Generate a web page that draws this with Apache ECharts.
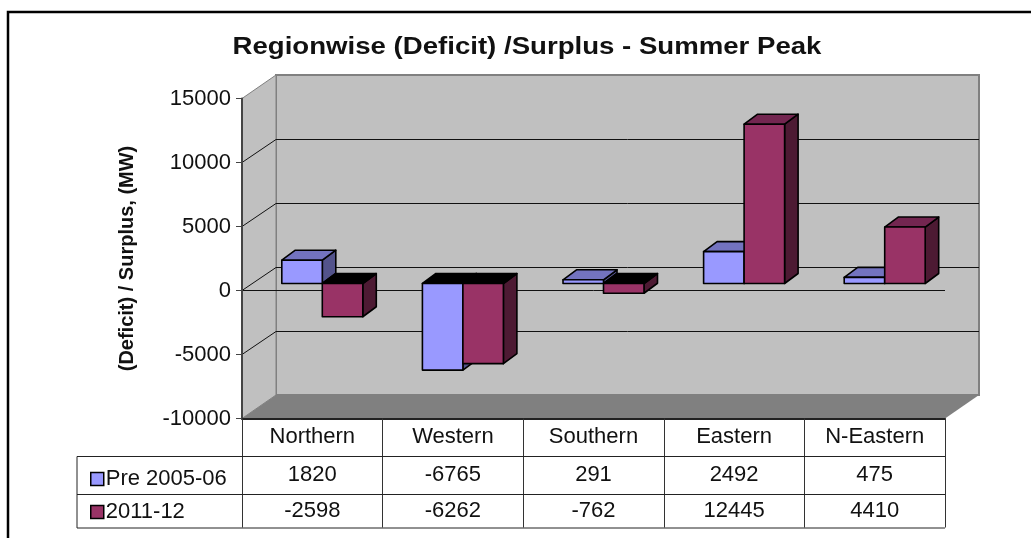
<!DOCTYPE html>
<html>
<head>
<meta charset="utf-8">
<style>
  html, body { margin: 0; padding: 0; background: #fff; }
  #chart { width: 1031px; height: 538px; }
</style>
<script src="https://cdn.jsdelivr.net/npm/echarts@6/dist/echarts.min.js"></script>
</head>
<body>
<div id="chart"></div>
<script>
const regions = ['Northern', 'Western', 'Southern', 'Eastern', 'N-Eastern']
const pre200506 = [1820, -6765, 291, 2492, 475]
const y201112 = [-2598, -6262, -762, 12445, 4410]
const yTicks = [-10000, -5000, 0, 5000, 10000, 15000]

const font = 'Liberation Sans'
const wall = { dx: 34, dy: 23.5 }
const barFront = { dx: 10, dy: 7 }
const barDepth = { dx: 13.5, dy: 10 }
const rowY = [475, 511]

const dom = document.getElementById('chart')
const chart = echarts.init(dom, null, { renderer: 'canvas' })

// back wall, side wall, floor and the gridlines that run over them
function renderWalls (params, api) {
  const low = api.coord([0, yTicks[0]])[1]
  const high = api.coord([0, yTicks[yTicks.length - 1]])[1]
  const size = api.size([1, 0])[0]
  const x0 = api.coord([0, 0])[0] - size / 2
  const x1 = x0 + size * regions.length
  const children = [
    { type: 'rect', shape: { x: x0 + wall.dx, y: high - wall.dy, width: x1 - x0, height: low - high }, style: { fill: '#c0c0c0', stroke: '#808080', lineWidth: 2 } },
    { type: 'polygon', shape: { points: [[x0, high], [x0 + wall.dx, high - wall.dy], [x0 + wall.dx, low - wall.dy], [x0, low]] }, style: { fill: '#c0c0c0', stroke: '#808080', lineWidth: 1 } },
    { type: 'polygon', shape: { points: [[x0, low], [x0 + wall.dx, low - wall.dy], [x1 + wall.dx, low - wall.dy], [x1, low]] }, style: { fill: '#808080' } }
  ]
  yTicks.slice(1, -1).forEach((t) => {
    const y = api.coord([0, t])[1]
    // keep the long run on a pixel centre so it stays crisp
    const back = Math.round(y - wall.dy) + 0.5
    children.push({ type: 'polyline', shape: { points: [[x0, y], [x0 + wall.dx, back], [x1 + wall.dx, back]] }, style: { fill: null, stroke: '#111', lineWidth: 1 } })
  })
  const zero = api.coord([0, 0])[1]
  children.push({ type: 'line', shape: { x1: x0, y1: zero, x2: x1, y2: zero }, style: { stroke: '#111', lineWidth: 1 } })
  return { type: 'group', children }
}

function barRenderer (front, top, side, offset, rowIndex) {
  return function (params, api) {
    const cat = api.value(0)
    const val = api.value(1)
    const center = api.coord([cat, 0])[0]
    const band = api.size([1, 0])[0]
    const w = band * 0.288
    const xa = center + barFront.dx + offset * w
    const xb = xa + w
    const y0 = api.coord([cat, 0])[1] - barFront.dy
    const yv = api.coord([cat, val])[1] - barFront.dy
    const yt = Math.min(y0, yv)
    const yb = Math.max(y0, yv)
    const d = barDepth
    const line = { stroke: '#000', lineWidth: 1.6, lineJoin: 'round' }
    return {
      type: 'group',
      children: [
        { type: 'polygon', shape: { points: [[xb, yt], [xb + d.dx, yt - d.dy], [xb + d.dx, yb - d.dy], [xb, yb]] }, style: { fill: side, ...line } },
        { type: 'polygon', shape: { points: [[xa, yt], [xa + d.dx, yt - d.dy], [xb + d.dx, yt - d.dy], [xb, yt]] }, style: { fill: val < 0 ? '#000' : top, ...line } },
        { type: 'rect', shape: { x: xa, y: yt, width: w, height: yb - yt }, style: { fill: front, ...line } },
        { type: 'text', style: { text: String(val), x: center, y: rowY[rowIndex], align: 'center', verticalAlign: 'middle', font: '22px "' + font + '"', fill: '#111' } }
      ]
    }
  }
}

const tableLines = [
  [77, 456.5, 945, 456.5],
  [77, 494.5, 945, 494.5],
  [77, 528, 945, 528],
  [77, 456.5, 77, 528]
]

const option = {
  animation: false,
  backgroundColor: '#fff',
  textStyle: { fontFamily: font },
  grid: { left: 242, top: 98.5, width: 703, height: 320 },
  legend: {
    orient: 'vertical',
    left: 85,
    top: 463,
    itemWidth: 13,
    itemHeight: 13,
    itemGap: 11,
    icon: 'rect',
    data: ['Pre 2005-06', '2011-12'],
    itemStyle: { borderColor: '#000', borderWidth: 1.5 },
    textStyle: { fontFamily: font, fontSize: 22, color: '#111', padding: [0, 0, 0, -3] }
  },
  xAxis: {
    type: 'category',
    data: regions,
    z: 4,
    axisLine: { onZero: false, lineStyle: { color: '#222', width: 2 } },
    axisTick: { show: true, length: 109, lineStyle: { color: '#333', width: 1 } },
    axisLabel: { fontFamily: font, fontSize: 22, color: '#111', margin: 7 }
  },
  yAxis: {
    type: 'value',
    min: yTicks[0],
    max: yTicks[yTicks.length - 1],
    interval: 5000,
    z: 4,
    name: '(Deficit) / Surplus, (MW)',
    nameLocation: 'middle',
    nameRotate: 90,
    nameGap: 105,
    nameTextStyle: { fontFamily: font, fontWeight: 'bold', fontSize: 20, color: '#111' },
    splitLine: { show: false },
    axisLine: { show: true, lineStyle: { color: '#444', width: 2 } },
    axisTick: { show: true, length: 6, lineStyle: { color: '#444', width: 1 } },
    axisLabel: { fontFamily: font, fontSize: 22, color: '#111', margin: 11, formatter: (v) => String(v) }
  },
  graphic: [
    { type: 'polyline', z: 10, shape: { points: [[8, 538], [8, 12], [1031, 12]] }, style: { fill: null, stroke: '#000', lineWidth: 2.5 } },
    // the title in the picture is stretched sideways, so it is scaled rather than enlarged
    { type: 'text', z: 10, x: 527, y: 47.5, scaleX: 1.2, style: { text: 'Regionwise (Deficit) /Surplus - Summer Peak', align: 'center', verticalAlign: 'middle', font: 'bold 23px "' + font + '"', fill: '#111' } }
  ].concat(tableLines.map((l) => ({
    type: 'line', z: 10, shape: { x1: l[0], y1: l[1], x2: l[2], y2: l[3] }, style: { stroke: '#222', lineWidth: 1 }
  }))),
  series: [
    { type: 'custom', name: 'walls', z: 1, silent: true, clip: false, data: [[0, 0]], renderItem: renderWalls },
    {
      type: 'custom',
      name: 'Pre 2005-06',
      z: 5,
      itemStyle: { color: '#9999ff' },
      encode: { x: 0, y: 1 },
      data: pre200506.map((v, i) => [i, v]),
      renderItem: barRenderer('#9999ff', '#7373bf', '#53538b', -1, 0)
    },
    {
      type: 'custom',
      name: '2011-12',
      z: 6,
      itemStyle: { color: '#993366' },
      encode: { x: 0, y: 1 },
      data: y201112.map((v, i) => [i, v]),
      renderItem: barRenderer('#993366', '#732650', '#4d1a33', 0, 1)
    }
  ]
}
chart.setOption(option)
</script>
</body>
</html>
